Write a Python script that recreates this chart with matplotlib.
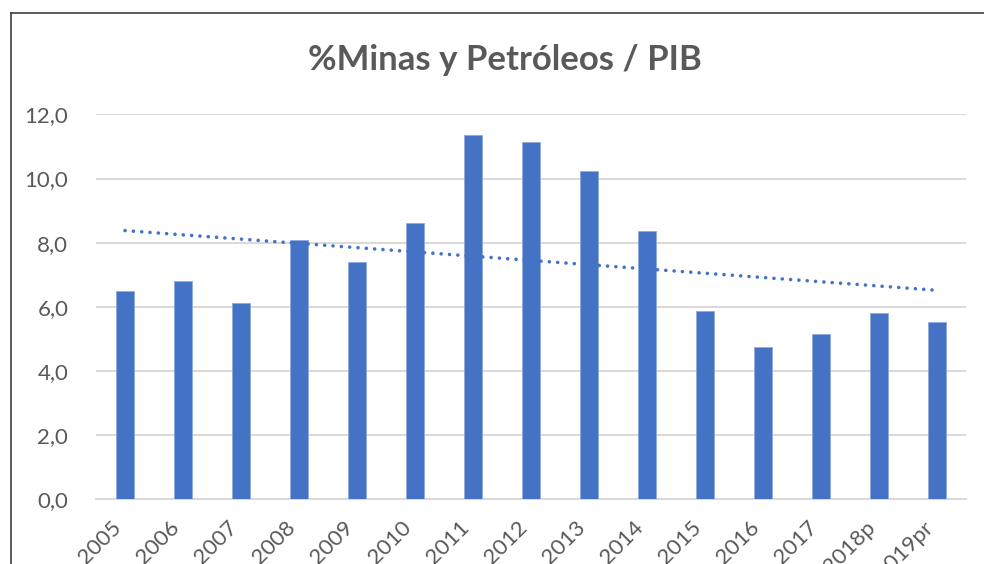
import numpy as np
import matplotlib
matplotlib.use("Agg")
import matplotlib.pyplot as plt
import matplotlib.transforms as mtransforms
from matplotlib.lines import Line2D

plt.rcParams['font.family'] = ['Lato', 'DejaVu Sans']

years = ['2005', '2006', '2007', '2008', '2009', '2010', '2011', '2012',
         '2013', '2014', '2015', '2016', '2017', '2018p', '2019pr']
share = [6.49, 6.82, 6.12, 8.08, 7.39, 8.61, 11.36, 11.15,
         10.22, 8.37, 5.88, 4.74, 5.15, 5.81, 5.52]
y_ticks = [0, 2, 4, 6, 8, 10, 12]

blue = '#4472C4'
grey_txt = '#595959'
grid_col = '#D9D9D9'

fig = plt.figure(figsize=(9.84, 5.64), dpi=100)
ax = fig.add_axes([0.0976, 0.1144, 0.8841, 0.6829])

x = np.arange(len(years))
ax.bar(x, share, width=0.32, color=blue, edgecolor='#8FAADC', linewidth=0.6, zorder=3)

# linear trend line
coef = np.polyfit(x, share, 1)
ax.plot(x, np.polyval(coef, x), color=blue, linewidth=2.6,
        linestyle=(0, (0.01, 2.3)), dash_capstyle='round', zorder=4)

ax.set_xlim(-0.5, len(years) - 0.5)
ax.set_ylim(0, 12)
ax.set_yticks(y_ticks)
ax.set_yticklabels([f'{v:.1f}'.replace('.', ',') for v in y_ticks],
                   fontsize=16, color=grey_txt)
ax.set_xticks(x)
ax.set_xticklabels(years, rotation=45, ha='right', fontsize=16, color=grey_txt)
shift = mtransforms.ScaledTranslation(8 / 100, 0, fig.dpi_scale_trans)
for lbl in ax.get_xticklabels():
    lbl.set_transform(lbl.get_transform() + shift)
ax.tick_params(axis='y', length=0, pad=20)
ax.tick_params(axis='x', length=0, pad=13)

ax.grid(axis='y', color=grid_col, linewidth=1.4, zorder=0)
for side in ['top', 'right', 'left']:
    ax.spines[side].set_visible(False)
ax.spines['bottom'].set_color(grid_col)
ax.spines['bottom'].set_linewidth(1.4)

fig.text(0.513, 0.893, '%Minas y Petróleos / PIB', ha='center', va='center',
         fontsize=25, fontweight='bold', color=grey_txt)

# outer frame (top and left edges visible)
fig.add_artist(Line2D([0.0112, 1.0], [0.9778, 0.9778], transform=fig.transFigure,
                      color='#404040', linewidth=1.2))
fig.add_artist(Line2D([0.0112, 0.0112], [0.0, 0.9778], transform=fig.transFigure,
                      color='#404040', linewidth=1.2))

fig.savefig('out.png', dpi=100)
